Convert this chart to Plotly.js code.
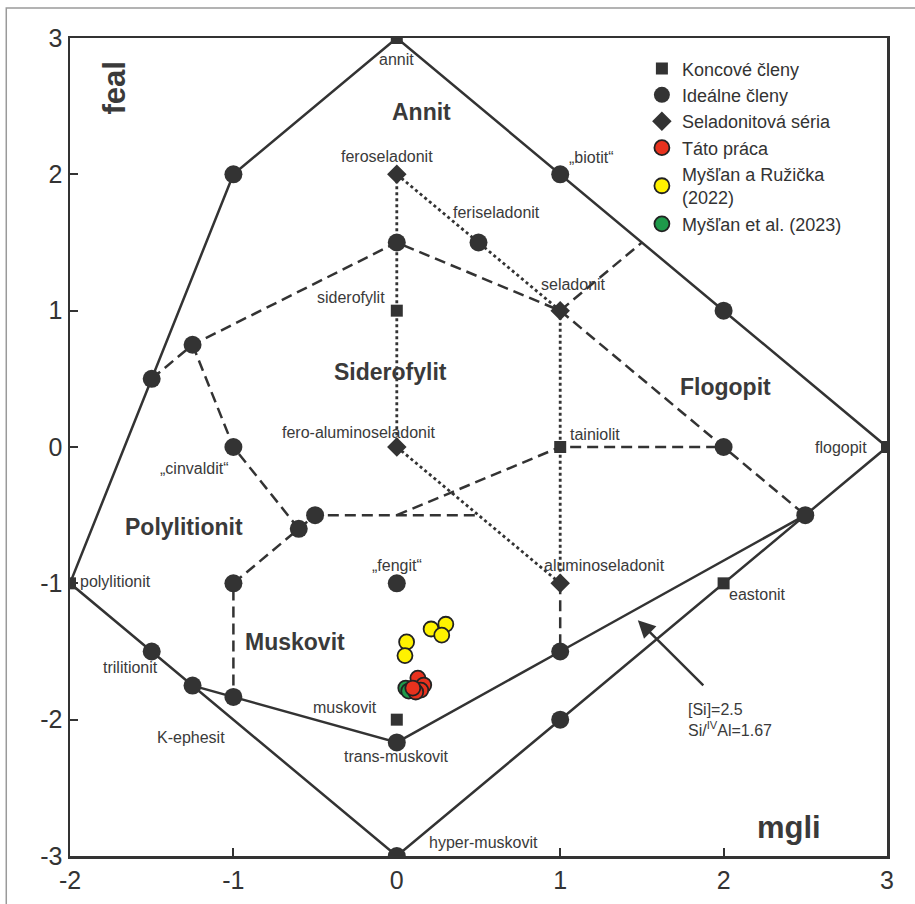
<!DOCTYPE html>
<html>
<head>
<meta charset="utf-8">
<script src="https://cdn.plot.ly/plotly-3.0.1.min.js"></script>
<style>
html,body{margin:0;padding:0;background:#fff;}
#chart{width:915px;height:904px;}
</style>
</head>
<body>
<div id="chart"></div>
<script>
// ---- Data ----
// Diagram boundary lines (solid)
const solidX = [0, -1, -1.5, -2, -1.5, -1.25, 0, 1, 2.5, 3, 2, 1, 0, null, -1.25, -1, 0, 1, 2.5];
const solidY = [3, 2, 0.5, -1, -1.5, -1.75, -3, -2, -0.5, 0, 1, 2, 3, null, -1.75, -1.833, -2.167, -1.5, -0.5];
// Field boundaries (dashed)
const dashX = [-1.5, -1.25, 0, 1, 1.5, null, -1.25, -1, -0.6, -1, -1, null, -0.6, -0.5, 0.5, null, 0, 1, 2, null, 1, 2, 2.5, null, 1, 1];
const dashY = [0.5, 0.75, 1.5, 1, 1.5, null, 0.75, 0, -0.6, -1, -1.833, null, -0.6, -0.5, -0.5, null, -0.5, 0, 0, null, 1, 0, -0.5, null, -1, -1.5];
// Seladonite series (dotted)
const dotX = [0, 0, null, 0, 1, null, 1, 1, null, 0, 1];
const dotY = [2, 0, null, 2, 1, null, 1, -1, null, 0, -1];

// Koncové členy (squares)
const endX = [0, 0, 1, 3, -2, 2, 0];
const endY = [3, 1, 0, 0, -1, -1, -2];
// Ideálne členy (circles)
const idealX = [-1, 0, 0.5, 1, 2, -1.5, -1.25, -1, -0.5, -0.6, 0, -1, 1, 2, 2.5, -1.5, -1.25, -1, 0, 1, 0];
const idealY = [2, 1.5, 1.5, 2, 1, 0.5, 0.75, 0, -0.5, -0.6, -1, -1, -1.5, 0, -0.5, -1.5, -1.75, -1.833, -2.167, -2, -3];
// Seladonitová séria (diamonds)
const selX = [0, 1, 0, 1];
const selY = [2, 1, 0, -1];

// Samples
const tatoX = [0.129, 0.165, 0.147, 0.116, 0.098];
const tatoY = [-1.695, -1.746, -1.783, -1.797, -1.768];
const myslan22X = [0.21, 0.30, 0.275, 0.06, 0.05];
const myslan22Y = [-1.335, -1.30, -1.38, -1.43, -1.53];
const myslan23X = [0.055, 0.073];
const myslan23Y = [-1.768, -1.79];

// Point labels
const lblText = ['annit', 'feroseladonit', '„biotit“', 'feriseladonit', 'seladonit', 'siderofylit',
  'fero-aluminoseladonit', 'tainiolit', 'flogopit', '„cinvaldit“', '„fengit“', 'polylitionit',
  'aluminoseladonit', 'eastonit', 'trilitionit', 'K-ephesit', 'muskovit', 'trans-muskovit', 'hyper-muskovit'];
const lblX = [0, -0.06, 1.19, 0.61, 1.08, -0.28, -0.23, 1.21, 2.72, -1.24, 0.0, -1.72, 1.27, 2.21, -1.63, -1.26, -0.32, 0, 0.53];
const lblY = [2.84, 2.13, 2.12, 1.72, 1.19, 1.10, 0.11, 0.09, 0.0, -0.155, -0.87, -0.99, -0.87, -1.08, -1.62, -2.13, -1.91, -2.27, -2.9];

// Field names
const fieldText = ['Annit', 'Siderofylit', 'Flogopit', 'Polylitionit', 'Muskovit'];
const fieldX = [0.15, -0.04, 2.01, -1.30, -0.62];
const fieldY = [2.46, 0.55, 0.44, -0.59, -1.43];

const xTicks = [-2, -1, 0, 1, 2, 3];
const xTickText = ['-2', '-1', '0', '1', '2', '3'];
const yTicks = [-3, -2, -1, 0, 1, 2, 3];
const yTickText = ['-3', '-2', '-1', '0', '1', '2', '3'];

// ---- Styling ----
const dark = '#333333';
const labelFont = {family: 'Liberation Sans, Arial, sans-serif', size: 16, color: '#3a3a3a'};
const boldFont = {family: 'Liberation Sans, Arial, sans-serif', size: 23, color: '#3a3a3a', weight: 'bold'};
const tickFont = {family: 'Liberation Sans Narrow, Arial Narrow, Liberation Sans, sans-serif', size: 25, color: dark};

const traces = [
  {x: solidX, y: solidY, mode: 'lines', line: {color: dark, width: 2.5}, showlegend: false, hoverinfo: 'skip'},
  {x: dashX, y: dashY, mode: 'lines', line: {color: dark, width: 2.5, dash: '11px,6px'}, showlegend: false, hoverinfo: 'skip'},
  {x: dotX, y: dotY, mode: 'lines', line: {color: dark, width: 2.8, dash: '3px,3px'}, showlegend: false, hoverinfo: 'skip'},
  {x: endX, y: endY, mode: 'markers', name: 'Koncové členy', legendrank: 1,
   marker: {symbol: 'square', size: 12, color: dark}},
  {x: idealX, y: idealY, mode: 'markers', name: 'Ideálne členy', legendrank: 2,
   marker: {symbol: 'circle', size: 18, color: dark}},
  {x: selX, y: selY, mode: 'markers', name: 'Seladonitová séria', legendrank: 3,
   marker: {symbol: 'diamond', size: 15, color: dark}},
  {x: myslan23X, y: myslan23Y, mode: 'markers', name: 'Myšľan et al. (2023)', legendrank: 6,
   marker: {symbol: 'circle', size: 15, color: '#1e9a4a', line: {color: '#222', width: 1.8}}},
  {x: tatoX, y: tatoY, mode: 'markers', name: 'Táto práca', legendrank: 4,
   marker: {symbol: 'circle', size: 15, color: '#e8321e', line: {color: '#222', width: 1.8}}},
  {x: myslan22X, y: myslan22Y, mode: 'markers', name: 'Myšľan a Ružička<br>(2022)', legendrank: 5,
   marker: {symbol: 'circle', size: 15, color: '#fff200', line: {color: '#222', width: 1.8}}}
];

const annotations = [];
for (let i = 0; i < lblText.length; i++) {
  annotations.push({x: lblX[i], y: lblY[i], text: lblText[i], showarrow: false, font: labelFont,
    xanchor: 'center', yanchor: 'middle'});
}
for (let i = 0; i < fieldText.length; i++) {
  annotations.push({x: fieldX[i], y: fieldY[i], text: fieldText[i], showarrow: false, font: boldFont,
    xanchor: 'center', yanchor: 'middle'});
}
// axis names inside plot
annotations.push({x: -1.73, y: 2.63, text: 'feal', textangle: -90, showarrow: false,
  font: {family: 'Liberation Sans, Arial, sans-serif', size: 31, color: '#3a3a3a', weight: 'bold'}});
annotations.push({x: 2.40, y: -2.79, text: 'mgli', showarrow: false,
  font: {family: 'Liberation Sans, Arial, sans-serif', size: 31, color: '#3a3a3a', weight: 'bold'}});
// arrow
annotations.push({x: 1.475, y: -1.27, ax: 1.885, ay: -1.76, axref: 'x', ayref: 'y', xref: 'x', yref: 'y',
  text: '', showarrow: true, arrowhead: 2, arrowsize: 1.4, arrowwidth: 2.5, arrowcolor: dark});
annotations.push({x: 1.77, y: -2.0, text: '[Si]=2.5<br>Si/<sup>IV</sup>Al=1.67', showarrow: false,
  align: 'left', xanchor: 'left', yanchor: 'middle', font: labelFont});

const layout = {
  width: 915, height: 904,
  margin: {l: 70, r: 28, t: 38, b: 48},
  paper_bgcolor: '#ffffff', plot_bgcolor: '#ffffff',
  showlegend: true,
  legend: {x: 0.70, y: 0.985, xanchor: 'left', yanchor: 'top', bgcolor: 'rgba(0,0,0,0)',
    font: {family: 'Liberation Sans, Arial, sans-serif', size: 18, color: dark}, tracegroupgap: 0},
  xaxis: {range: [-2, 3], tickvals: xTicks, ticktext: xTickText, ticks: 'inside', ticklen: 8, tickwidth: 2, tickcolor: dark,
    showline: true, linewidth: 2.5, linecolor: dark, mirror: true, showgrid: false, zeroline: false,
    tickfont: tickFont},
  yaxis: {range: [-3, 3], tickvals: yTicks, ticktext: yTickText, ticks: 'inside', ticklen: 8, tickwidth: 2, tickcolor: dark,
    showline: true, linewidth: 2.5, linecolor: dark, mirror: true, showgrid: false, zeroline: false,
    tickfont: tickFont},
  annotations: annotations,
  shapes: [{type: 'rect', xref: 'paper', yref: 'paper', x0: -0.078, x1: 1.2, y0: -0.3, y1: 1.0367,
    line: {color: '#9a9a9a', width: 1.5}, fillcolor: 'rgba(0,0,0,0)', layer: 'below'}]
};

Plotly.newPlot('chart', traces, layout, {displayModeBar: false, staticPlot: true});
</script>
</body>
</html>
